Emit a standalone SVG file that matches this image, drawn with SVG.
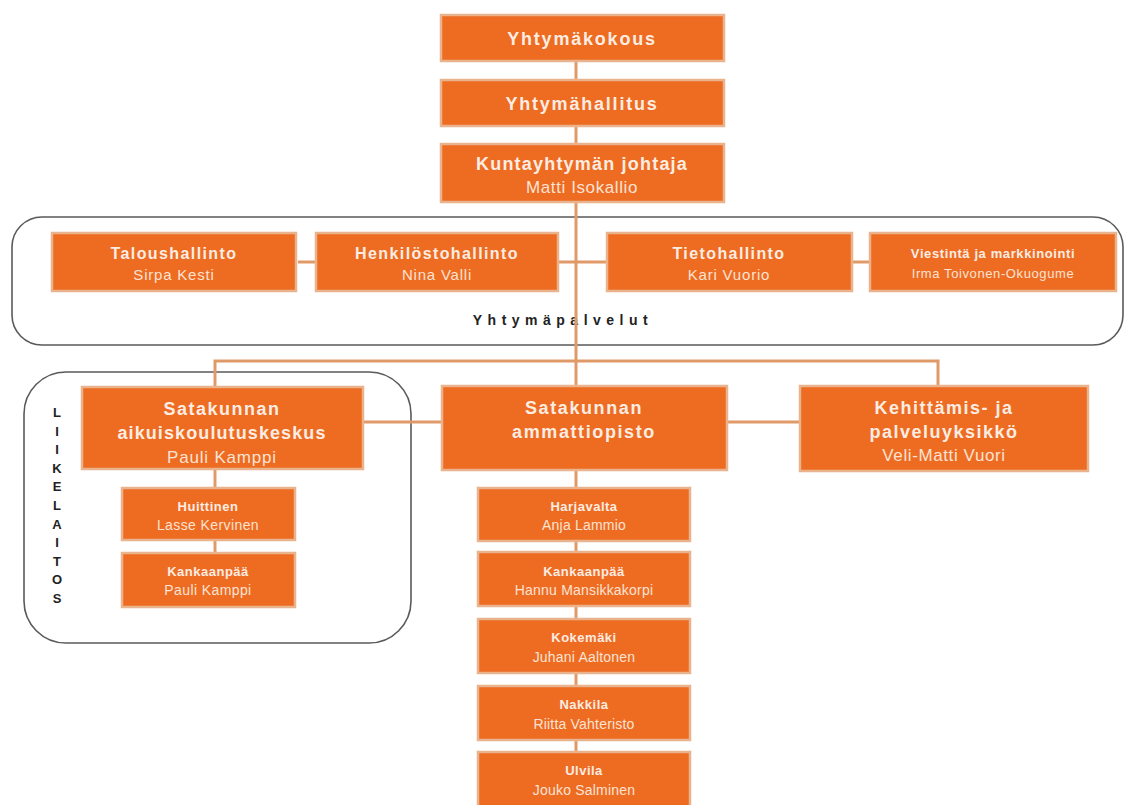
<svg xmlns="http://www.w3.org/2000/svg" width="1126" height="805" viewBox="0 0 1126 805">
<defs>
<style>
.box{fill:#EE6B22;stroke:#E9B48D;stroke-width:2.5}
.t{font-family:"Liberation Sans",Arial,sans-serif;font-weight:bold;fill:#FCEDE2;text-anchor:middle}
.n{font-family:"Liberation Sans",Arial,sans-serif;fill:#FBE3D3;text-anchor:middle}
.c{stroke:#E09A68;stroke-width:3;fill:none}
.grp{fill:none;stroke:#5a5a5a;stroke-width:1.6}
.lbl{font-family:"Liberation Sans",Arial,sans-serif;font-weight:bold;fill:#222;text-anchor:middle}
</style>
</defs>
<rect width="1126" height="805" fill="#ffffff"/>
<g id="group-frames">
<rect class="grp" x="12" y="217" width="1111" height="128" rx="30"/>
<rect class="grp" x="24" y="372" width="387" height="271" rx="42"/>
<text class="lbl" x="563" y="325" font-size="14" letter-spacing="5.5">Yhtymäpalvelut</text>
<g class="lbl" font-size="13">
<text x="57" y="417">L</text><text x="57" y="436">I</text><text x="57" y="454">I</text><text x="57" y="473">K</text><text x="57" y="491">E</text><text x="57" y="510">L</text><text x="57" y="529">A</text><text x="57" y="547">I</text><text x="57" y="566">T</text><text x="57" y="584">O</text><text x="57" y="603">S</text>
</g>
</g>
<g id="connectors">
<line class="c" x1="576" y1="60" x2="576" y2="805"/>
<line class="c" x1="298" y1="262" x2="316" y2="262"/>
<line class="c" x1="558" y1="262" x2="607" y2="262"/>
<line class="c" x1="852" y1="262" x2="870" y2="262"/>
<polyline class="c" points="215,388 215,361 938,361 938,388"/>
<line class="c" x1="363" y1="422" x2="442" y2="422"/>
<line class="c" x1="727" y1="422" x2="800" y2="422"/>
<line class="c" x1="215" y1="468" x2="215" y2="552"/>
</g>
<g id="n-yhtymakokous">
<rect class="box" x="441" y="15" width="283" height="46"/>
<text class="t" x="582" y="45" font-size="18" letter-spacing="1.8">Yhtymäkokous</text>
</g>
<g id="n-yhtymahallitus">
<rect class="box" x="441" y="80" width="283" height="46"/>
<text class="t" x="582" y="110" font-size="18" letter-spacing="1.8">Yhtymähallitus</text>
</g>
<g id="n-johtaja">
<rect class="box" x="441" y="144" width="283" height="58"/>
<text class="t" x="582" y="170" font-size="18" letter-spacing="1.2">Kuntayhtymän johtaja</text>
<text class="n" x="582" y="193" font-size="17" letter-spacing="0.6">Matti Isokallio</text>
</g>
<g id="n-talous">
<rect class="box" x="52" y="233" width="244" height="58"/>
<text class="t" x="174" y="259" font-size="16" letter-spacing="1.4">Taloushallinto</text>
<text class="n" x="174" y="280" font-size="15" letter-spacing="0.8">Sirpa Kesti</text>
</g>
<g id="n-henkilosto">
<rect class="box" x="316" y="233" width="242" height="58"/>
<text class="t" x="437" y="259" font-size="16" letter-spacing="1.4">Henkilöstohallinto</text>
<text class="n" x="437" y="280" font-size="15" letter-spacing="0.8">Nina Valli</text>
</g>
<g id="n-tieto">
<rect class="box" x="607" y="233" width="245" height="58"/>
<text class="t" x="729" y="259" font-size="16" letter-spacing="1.4">Tietohallinto</text>
<text class="n" x="729" y="280" font-size="15" letter-spacing="0.8">Kari Vuorio</text>
</g>
<g id="n-viestinta">
<rect class="box" x="870" y="233" width="246" height="58"/>
<text class="t" x="993" y="258" font-size="13" letter-spacing="0.6">Viestintä ja markkinointi</text>
<text class="n" x="993" y="278" font-size="13" letter-spacing="0.6">Irma Toivonen-Okuogume</text>
</g>
<g id="n-aikuis">
<rect class="box" x="82" y="387" width="281" height="82"/>
<text class="t" x="222" y="415" font-size="18" letter-spacing="1.5">Satakunnan</text>
<text class="t" x="222" y="439" font-size="18" letter-spacing="1.1">aikuiskoulutuskeskus</text>
<text class="n" x="222" y="463" font-size="17" letter-spacing="0.8">Pauli Kamppi</text>
</g>
<g id="n-ammattiopisto">
<rect class="box" x="442" y="386" width="285" height="84"/>
<text class="t" x="584" y="414" font-size="18" letter-spacing="1.6">Satakunnan</text>
<text class="t" x="584" y="438" font-size="18" letter-spacing="1.6">ammattiopisto</text>
</g>
<g id="n-kehittamis">
<rect class="box" x="800" y="386" width="288" height="85"/>
<text class="t" x="944" y="414" font-size="18" letter-spacing="1.5">Kehittämis- ja</text>
<text class="t" x="944" y="438" font-size="18" letter-spacing="1.5">palveluyksikkö</text>
<text class="n" x="944" y="461" font-size="17" letter-spacing="0.6">Veli-Matti Vuori</text>
</g>
<g id="n-huittinen">
<rect class="box" x="122" y="488" width="173" height="52"/>
<text class="t" x="208" y="511" font-size="13" letter-spacing="0.5">Huittinen</text>
<text class="n" x="208" y="530" font-size="14" letter-spacing="0.4">Lasse Kervinen</text>
</g>
<g id="n-kankaanpaa-a">
<rect class="box" x="122" y="553" width="173" height="54"/>
<text class="t" x="208" y="576" font-size="13" letter-spacing="0.5">Kankaanpää</text>
<text class="n" x="208" y="595" font-size="14" letter-spacing="0.4">Pauli Kamppi</text>
</g>
<g id="n-harjavalta">
<rect class="box" x="478" y="488" width="212" height="53"/>
<text class="t" x="584" y="511" font-size="13" letter-spacing="0.5">Harjavalta</text>
<text class="n" x="584" y="530" font-size="14" letter-spacing="0.2">Anja Lammio</text>
</g>
<g id="n-kankaanpaa">
<rect class="box" x="478" y="552" width="212" height="54"/>
<text class="t" x="584" y="576" font-size="13" letter-spacing="0.5">Kankaanpää</text>
<text class="n" x="584" y="595" font-size="14" letter-spacing="0.2">Hannu Mansikkakorpi</text>
</g>
<g id="n-kokemaki">
<rect class="box" x="478" y="619" width="212" height="54"/>
<text class="t" x="584" y="642" font-size="13" letter-spacing="0.5">Kokemäki</text>
<text class="n" x="584" y="662" font-size="14" letter-spacing="0.2">Juhani Aaltonen</text>
</g>
<g id="n-nakkila">
<rect class="box" x="478" y="686" width="212" height="54"/>
<text class="t" x="584" y="709" font-size="13" letter-spacing="0.5">Nakkila</text>
<text class="n" x="584" y="729" font-size="14" letter-spacing="0.2">Riitta Vahteristo</text>
</g>
<g id="n-ulvila">
<rect class="box" x="478" y="752" width="212" height="56"/>
<text class="t" x="584" y="775" font-size="13" letter-spacing="0.5">Ulvila</text>
<text class="n" x="584" y="795" font-size="14" letter-spacing="0.2">Jouko Salminen</text>
</g>
</svg>
